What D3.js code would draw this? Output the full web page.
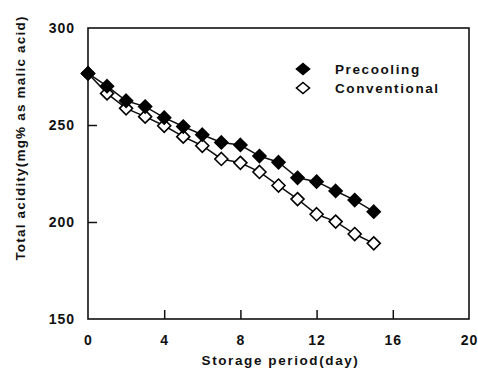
<!DOCTYPE html>
<html><head><meta charset="utf-8">
<script src="https://cdn.jsdelivr.net/npm/d3@7"></script>
<style>
body{margin:0;background:#fff;}
text{font-family:"Liberation Sans",Arial,sans-serif;fill:#111;}
</style></head>
<body><div id="chart"></div>
<script>
const days = [0,1,2,3,4,5,6,7,8,9,10,11,12,13,14,15];
const precooling = [276.6,270,262.5,259.5,253.8,249.2,245,241,239.7,234,230.8,222.8,220.8,216,211.3,205.3];
const conventional = [276.6,266.3,258.6,254.3,249.6,244,239.3,232.5,230.5,225.8,218.8,211.8,204,200.2,193.8,189];
const xTicks = [0,4,8,12,16,20];
const yTicks = [150,200,250,300];
const seriesNames = ["Precooling","Conventional"];

const W=478,H=371;
const m={left:88,right:9,top:28,bottom:52};
const svg=d3.select("#chart").append("svg").attr("width",W).attr("height",H);
const x=d3.scaleLinear().domain([0,20]).range([m.left,W-m.right]);
const y=d3.scaleLinear().domain([150,300]).range([H-m.bottom,m.top]);

// frame
svg.append("rect").attr("x",x(0)).attr("y",y(300)).attr("width",x(20)-x(0)).attr("height",y(150)-y(300))
  .attr("fill","none").attr("stroke","#111").attr("stroke-width",1.6);

// axes
const xa=svg.append("g").attr("transform",`translate(0,${y(150)})`)
  .call(d3.axisBottom(x).tickValues(xTicks).tickSize(-9).tickPadding(16).tickFormat(d3.format("d")));
const ya=svg.append("g").attr("transform",`translate(${x(0)},0)`)
  .call(d3.axisLeft(y).tickValues(yTicks).tickSize(-9).tickPadding(13).tickFormat(d3.format("d")));
[xa,ya].forEach(g=>{
  g.select(".domain").remove();
  g.selectAll(".tick line").attr("stroke","#111").attr("stroke-width",1.5);
  g.selectAll("text").attr("font-size",14).attr("font-weight","bold").attr("fill","#111").style("letter-spacing","1px");
});
xa.selectAll(".tick").filter(d=>d===0||d===20).select("line").remove();
ya.selectAll(".tick").filter(d=>d===150||d===300).select("line").remove();

// axis titles
svg.append("text").attr("x",(x(0)+x(20))/2+2).attr("y",365).attr("text-anchor","middle")
  .attr("font-size",13.5).attr("font-weight","bold").style("letter-spacing","1.6px").text("Storage period(day)");
svg.append("text").attr("transform",`translate(25,${138}) rotate(-90)`).attr("text-anchor","middle")
  .attr("font-size",13.5).attr("font-weight","bold").style("letter-spacing","1.2px").text("Total acidity(mg% as malic acid)");

const line=d3.line().x((d,i)=>x(days[i])).y(d=>y(d));
const diamond=d3.symbol().type(d3.symbolDiamond2).size(80);
const diamondPath="M0,-6.5L6.5,0L0,6.5L-6.5,0Z";

function drawSeries(vals,filled){
  svg.append("path").datum(vals).attr("d",line).attr("fill","none").attr("stroke","#111").attr("stroke-width",1.5);
  svg.append("g").selectAll("path").data(vals).join("path")
    .attr("d",diamondPath)
    .attr("transform",(d,i)=>`translate(${x(days[i])},${y(d)})`)
    .attr("fill",filled?"#000":"#fff").attr("stroke","#000").attr("stroke-width",1.6);
}
drawSeries(conventional,false);
drawSeries(precooling,true);

// legend
const leg=[{n:seriesNames[0],f:true,y:69},{n:seriesNames[1],f:false,y:88}];
leg.forEach(l=>{
  svg.append("path").attr("d","M0,-5.5L6.5,0L0,5.5L-6.5,0Z").attr("transform",`translate(303,${l.y})`)
    .attr("fill",l.f?"#000":"#fff").attr("stroke","#000").attr("stroke-width",1.6);
  svg.append("text").attr("x",335).attr("y",l.y+5).attr("font-size",13.5).attr("font-weight","bold")
    .style("letter-spacing","1.6px").text(l.n);
});
</script></body></html>
